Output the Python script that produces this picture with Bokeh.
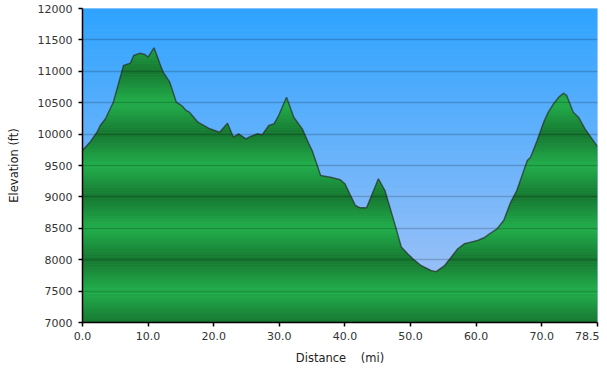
import numpy as np
from bokeh.plotting import figure
from bokeh.models import FixedTicker, BoxAnnotation
from bokeh.embed import file_html
from bokeh.resources import INLINE

# ---- data ----
distance = [0.0, 1.2, 2.2, 2.7, 3.5, 4.7, 6.25, 7.3, 7.8, 8.8, 9.5, 10.0, 10.9,
            11.8, 12.3, 13.3, 14.3, 15.1, 15.8, 16.3, 17.6, 19.4, 20.9, 22.1,
            23.0, 23.8, 24.9, 25.7, 26.7, 27.4, 28.4, 29.2, 29.9, 31.1, 32.2,
            33.5, 34.5, 35.0, 36.3, 37.8, 39.3, 40.0, 41.6, 42.3, 43.3, 45.1,
            46.1, 47.6, 48.6, 49.6, 50.4, 51.6, 53.1, 53.9, 55.2, 56.4, 57.2,
            58.2, 59.2, 60.2, 61.2, 62.2, 63.2, 64.2, 65.2, 66.2, 67.8, 68.3,
            69.3, 70.3, 71.0, 71.8, 72.6, 73.3, 73.8, 74.8, 75.6, 76.6, 78.5]
elevation = [9740, 9880, 10030, 10137, 10244, 10508, 11092, 11130, 11252, 11288,
             11268, 11225, 11374, 11120, 10986, 10827, 10508, 10455, 10376, 10349,
             10190, 10084, 10030, 10174, 9950, 10005, 9925, 9967, 10005, 9989,
             10137, 10164, 10296, 10588, 10269, 10084, 9846, 9739, 9341, 9314,
             9272, 9209, 8863, 8826, 8826, 9288, 9102, 8571, 8200, 8090, 8010,
             7907, 7828, 7810, 7907, 8067, 8174, 8253, 8280, 8306, 8349, 8422,
             8492, 8624, 8900, 9102, 9580, 9632, 9898, 10190, 10349, 10482,
             10588, 10651, 10615, 10349, 10269, 10084, 9800]

y_ticks = [7000, 7500, 8000, 8500, 9000, 9500, 10000, 10500, 11000, 11500, 12000]
x_ticks = [0, 10, 20, 30, 40, 50, 60, 70, 78.5]
x_tick_labels = ["0.0", "10.0", "20.0", "30.0", "40.0", "50.0", "60.0", "70.0", "78.5"]

y_min, y_max = 7000, 12000
x_min, x_max = 0, 78.5

p = figure(width=599, height=369, x_range=(x_min, x_max), y_range=(y_min, y_max),
           output_backend="svg", toolbar_location=None,
           min_border_left=82, min_border_right=2, min_border_top=8,
           min_border_bottom=47)
p.outline_line_color = None
p.background_fill_color = "#6ab0f8"
p.border_fill_color = "white"

# ---- sky gradient (bands) ----
top_c = np.array([46, 163, 255])
bot_c = np.array([172, 197, 246])
n_sky = 60
edges = np.linspace(y_min, y_max, n_sky + 1)
for i in range(n_sky):
    f = (edges[i] + edges[i + 1]) / 2
    t = (f - y_min) / (y_max - y_min)
    c = bot_c * (1 - t) + top_c * t
    col = "#%02x%02x%02x" % tuple(int(round(v)) for v in c)
    p.add_layout(BoxAnnotation(bottom=edges[i] - 3, top=edges[i + 1] + 3,
                               fill_color=col, fill_alpha=1.0, line_color=None,
                               level="underlay"))

# ---- terrain with repeating green gradient ----
def refine(xs, ys, levels):
    ox, oy = [xs[0]], [ys[0]]
    for i in range(len(xs) - 1):
        x0, y0, x1, y1 = xs[i], ys[i], xs[i + 1], ys[i + 1]
        lo, hi = min(y0, y1), max(y0, y1)
        ts = sorted((L - y0) / (y1 - y0) for L in levels if lo < L < hi)
        for t in ts:
            ox.append(x0 + t * (x1 - x0))
            oy.append(y0 + t * (y1 - y0))
        ox.append(x1)
        oy.append(y1)
    return np.array(ox), np.array(oy)

light_g = np.array([36, 178, 78])
dark_g = np.array([22, 116, 48])
band = 25
levels = list(range(y_min, y_max + 1, band))
rx, ry = refine(distance, elevation, levels)

p.varea(x=distance, y1=y_min, y2=elevation, fill_color="#1f9a42")
for b0 in levels[:-1]:
    b1 = b0 + band
    if ry.max() <= b0:
        continue
    mid = b0 + band / 2
    t = abs(((mid - y_min) % 1000) - 500) / 500.0
    c = light_g * (1 - t) + dark_g * t
    col = "#%02x%02x%02x" % tuple(int(round(v)) for v in c)
    p.varea(x=rx, y1=b0, y2=np.clip(ry, b0, b1), fill_color=col)

p.line(distance, elevation, line_color="#2a2a2a", line_alpha=0.65, line_width=1.5)

# ---- grid ----
p.xgrid.visible = False
p.ygrid.ticker = FixedTicker(ticks=y_ticks)
p.ygrid.grid_line_color = "#000000"
p.ygrid.grid_line_alpha = 0.18
p.ygrid.grid_line_width = 1.5
p.ygrid.level = "annotation"

# ---- axes ----
for ax in (p.xaxis[0], p.yaxis[0]):
    ax.axis_line_color = "black"
    ax.axis_line_width = 1.5
    ax.major_tick_line_color = "black"
    ax.major_tick_line_width = 1.5
    ax.major_tick_out = 4
    ax.major_tick_in = 0
    ax.minor_tick_line_color = None
    ax.major_label_text_font = "DejaVu Sans"
    ax.major_label_text_font_size = "11px"
    ax.major_label_text_color = "#333333"
    ax.axis_label_text_font = "DejaVu Sans"
    ax.axis_label_text_font_size = "11.5px"
    ax.axis_label_text_font_style = "normal"
    ax.axis_label_text_color = "#222222"

p.yaxis.ticker = FixedTicker(ticks=y_ticks)
p.yaxis.major_label_standoff = 6
p.yaxis.axis_label = "Elevation (ft)"
p.yaxis.axis_label_standoff = 14

p.xaxis.ticker = FixedTicker(ticks=x_ticks)
p.xaxis.major_label_overrides = {tk: lab for tk, lab in zip(x_ticks, x_tick_labels)}
p.xaxis.major_label_standoff = 5
p.xaxis.axis_label = "Distance\u00a0\u00a0\u00a0\u00a0(mi)"
p.xaxis.axis_label_standoff = 8

open("out.html", "w").write(file_html(p, INLINE))
